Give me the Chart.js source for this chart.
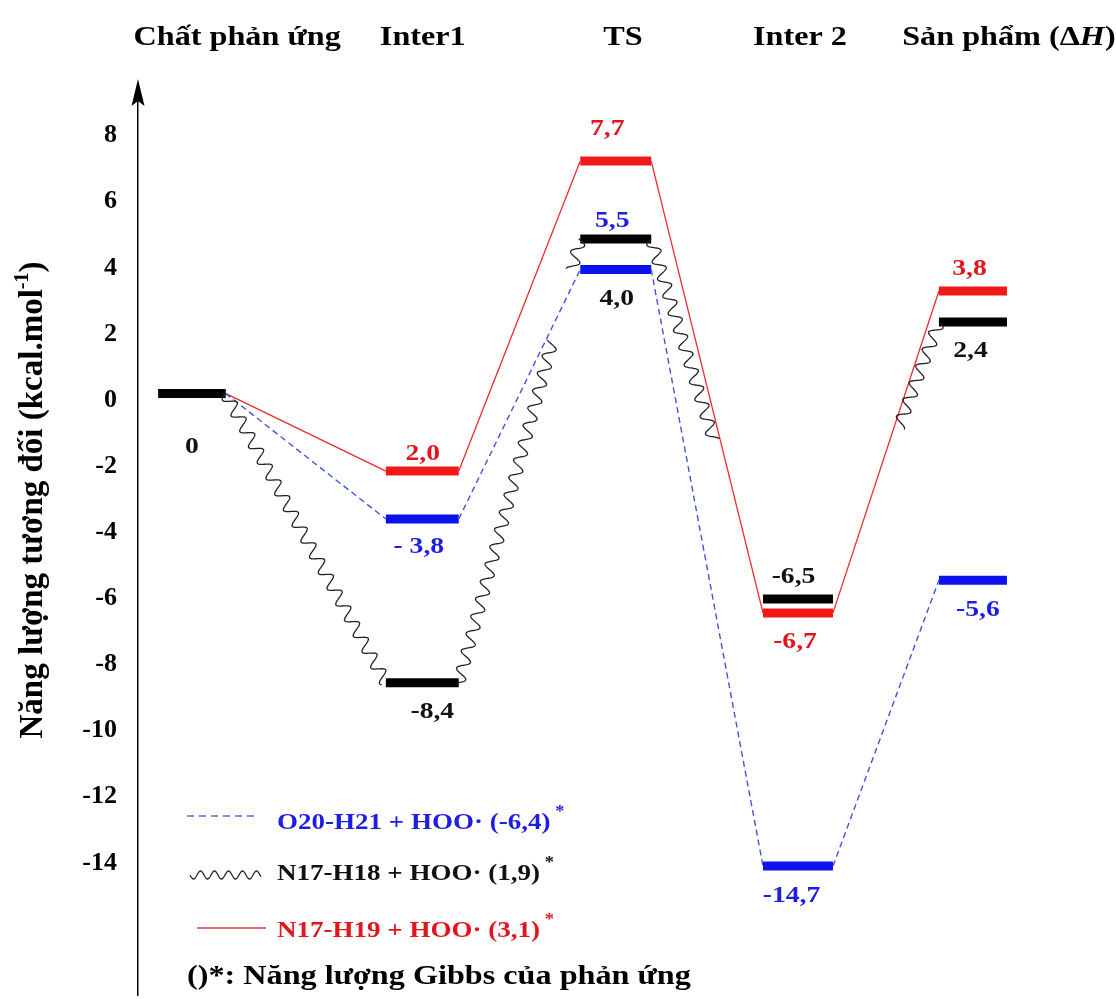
<!DOCTYPE html>
<html>
<head>
<meta charset="utf-8">
<script src="https://cdn.jsdelivr.net/npm/chart.js@4.4.1/dist/chart.umd.min.js"></script>
<style>
  html, body { margin: 0; padding: 0; background: #fff; }
  #wrap { width: 1116px; height: 999px; }
</style>
</head>
<body>
<div id="wrap"><canvas id="energyChart"></canvas></div>
<script>
const stages = ["Chất phản ứng", "Inter1", "TS", "Inter 2", "Sản phẩm (Δ"];
const yTicks = [8, 6, 4, 2, 0, -2, -4, -6, -8, -10, -12, -14];

// levels as they sit on the energy axis (kcal/mol)
const blueLevels = [0.2, -3.6, 3.95, -14.1, -5.45];
const blackLevels = [0.2, -8.55, 4.87, -6.02, 2.36];
const redLevels = [0.2, -2.15, 7.23, -6.44, 3.3];

// printed values next to the levels
const blueValueText = ["", "- 3,8", "5,5", "-14,7", "-5,6"];
const blackValueText = ["0", "-8,4", "4,0", "-6,5", "2,4"];
const redValueText = ["", "2,0", "7,7", "-6,7", "3,8"];

const legendText = ["O20-H21 + HOO· (-6,4)", "N17-H18 + HOO· (1,9)", "N17-H19 + HOO· (3,1)"];
const footnote = "()*: Năng lượng Gibbs của phản ứng";
const yTitle = "Năng lượng tương đối (kcal.mol";

// layout (x axis runs 0..10 across the plot)
const stageSpan = [[0.21, 0.9], [2.55, 3.3], [4.55, 5.28], [6.43, 7.15], [8.24, 8.94]];
const headerX = [1.02, 2.93, 4.99, 6.81, 8.96];
const blackLabelOffset = [[0, 60], [10, 35], [1, 66], [-4.5, -16], [-2.5, 35]];
const blueLabelOffset = [[0, 0], [-3.5, 34], [-3.5, -42.5], [-6.5, 35.5], [5, 36]];
const redLabelOffset = [[0, 0], [0.5, -11], [-8.5, -26], [-3, 35], [-3.5, -16]];
// parts of the wavy connectors that are actually drawn
const blackWaveParts = [[[0, 1]], [[0, 0.77], [0.93, 1]], [[0, 0.56]], [[0.62, 1]]];

const SERIF = "'Liberation Serif', 'Times New Roman', serif";
const STRETCH = 1.15;
const BLUE = "#0b12ee", RED = "#f01818", BLACK = "#000";

function levelPoints(levels) {
  const pts = [];
  levels.forEach((v, i) => {
    pts.push({ x: stageSpan[i][0], y: v }, { x: stageSpan[i][1], y: v });
  });
  return pts;
}
const isLevel = (c) => c.p0DataIndex % 2 === 0;

function drawRich(ctx, x, y, pieces, align, sx) {
  ctx.save();
  ctx.translate(x, y);
  ctx.scale(sx, 1);
  ctx.textBaseline = "alphabetic";
  ctx.textAlign = "left";
  let w = 0;
  pieces.forEach((p) => { ctx.font = p.font; w += ctx.measureText(p.t).width + (p.dx || 0); });
  let cx = align === "center" ? -w / 2 : align === "right" ? -w : 0;
  pieces.forEach((p) => {
    ctx.font = p.font;
    ctx.fillStyle = p.color;
    cx += p.dx || 0;
    ctx.fillText(p.t, cx, p.dy || 0);
    cx += ctx.measureText(p.t).width;
  });
  ctx.restore();
}

function waveLine(ctx, x0, y0, x1, y1, amp, len, t0, t1) {
  const dx = x1 - x0, dy = y1 - y0, L = Math.hypot(dx, dy);
  const ux = dx / L, uy = dy / L, nx = -uy, ny = ux;
  ctx.beginPath();
  let first = true;
  for (let s = t0 * L; s <= t1 * L; s += 0.5) {
    const o = amp * Math.sin((2 * Math.PI * s) / len);
    const px = x0 + ux * s + nx * o, py = y0 + uy * s + ny * o;
    if (first) { ctx.moveTo(px, py); first = false; } else ctx.lineTo(px, py);
  }
  ctx.stroke();
}

const diagramPlugin = {
  id: "diagram",
  beforeDraw(chart) {
    const ctx = chart.ctx;
    ctx.save();
    ctx.fillStyle = "#fff";
    ctx.fillRect(0, 0, chart.width, chart.height);
    ctx.restore();
  },
  afterDatasetsDraw(chart) {
    const ctx = chart.ctx;
    const xs = chart.scales.x, ys = chart.scales.y;

    // wavy connectors of the black path
    const pts = chart.getDatasetMeta(0).data;
    ctx.save();
    ctx.strokeStyle = "#222";
    ctx.lineWidth = 1.3;
    blackWaveParts.forEach((parts, j) => {
      const a = pts[2 * j + 1], b = pts[2 * j + 2];
      parts.forEach(([t0, t1]) => waveLine(ctx, a.x, a.y, b.x, b.y, 6, 18, t0, t1));
    });
    ctx.restore();

    // value labels
    const font = "bold 24px " + SERIF;
    const groups = [
      [blackLevels, blackValueText, blackLabelOffset, "#111"],
      [blueLevels, blueValueText, blueLabelOffset, "#1d1de6"],
      [redLevels, redValueText, redLabelOffset, "#e3141b"]
    ];
    groups.forEach(([levels, texts, offs, color]) => {
      texts.forEach((t, i) => {
        if (!t) return;
        const cx = (xs.getPixelForValue(stageSpan[i][0]) + xs.getPixelForValue(stageSpan[i][1])) / 2;
        drawRich(ctx, cx + offs[i][0], ys.getPixelForValue(levels[i]) + offs[i][1],
          [{ t, font, color }], "center", STRETCH);
      });
    });
  },
  afterDraw(chart) {
    const ctx = chart.ctx;
    const xs = chart.scales.x, ys = chart.scales.y;
    const hFont = "bold 28px " + SERIF;

    // stage headers
    stages.forEach((s, i) => {
      const pieces = [{ t: s, font: hFont, color: BLACK }];
      if (i === stages.length - 1) {
        pieces.push({ t: "H", font: "italic bold 28px " + SERIF, color: BLACK });
        pieces.push({ t: ")", font: hFont, color: BLACK });
      }
      drawRich(ctx, xs.getPixelForValue(headerX[i]), 45, pieces, "center", STRETCH);
    });

    // arrow on the energy axis
    const ax = ys.right;
    ctx.save();
    ctx.fillStyle = BLACK;
    ctx.beginPath();
    ctx.moveTo(ax, 79);
    ctx.lineTo(ax - 6.5, 106);
    ctx.lineTo(ax, 101);
    ctx.lineTo(ax + 6.5, 106);
    ctx.closePath();
    ctx.fill();
    ctx.fillRect(ax - 0.75, 100, 1.5, chart.chartArea.top - 100 + 1);
    ctx.restore();

    // axis title
    ctx.save();
    ctx.translate(42, 500);
    ctx.rotate(-Math.PI / 2);
    drawRich(ctx, 0, 0, [
      { t: yTitle, font: "bold 33px " + SERIF, color: BLACK },
      { t: "-1", font: "bold 20px " + SERIF, color: BLACK, dy: -14 },
      { t: ")", font: "bold 33px " + SERIF, color: BLACK }
    ], "center", 1);
    ctx.restore();

    // legend
    const lFont = "bold 23.5px " + SERIF;
    const sFont = "bold 16px " + SERIF;
    ctx.save();
    ctx.lineWidth = 1.6;
    ctx.strokeStyle = "#5c68d6";
    ctx.setLineDash([7, 5]);
    ctx.beginPath(); ctx.moveTo(187, 816); ctx.lineTo(258, 816); ctx.stroke();
    ctx.setLineDash([]);
    ctx.strokeStyle = "#222";
    ctx.lineWidth = 1.3;
    waveLine(ctx, 190, 875, 261, 875, 4, 14, 0, 1);
    ctx.strokeStyle = "#e26a6a";
    ctx.lineWidth = 2;
    ctx.beginPath(); ctx.moveTo(197, 928); ctx.lineTo(266, 928); ctx.stroke();
    ctx.restore();

    const legendColors = ["#1d1de6", "#111", "#e3141b"];
    const legendBase = [829, 880, 937];
    legendText.forEach((t, i) => {
      drawRich(ctx, 277, legendBase[i], [
        { t, font: lFont, color: legendColors[i] },
        { t: "*", font: sFont, color: legendColors[i], dy: -13, dx: 4 }
      ], "left", STRETCH);
    });

    drawRich(ctx, 187, 984, [{ t: footnote, font: "bold 28px " + SERIF, color: BLACK }], "left", STRETCH);
  }
};

new Chart(document.getElementById("energyChart"), {
  type: "line",
  data: {
    datasets: [
      {
        label: "N17-H18 + HOO·",
        data: levelPoints(blackLevels),
        borderColor: BLACK,
        borderWidth: 9,
        segment: {
          borderWidth: (c) => (isLevel(c) ? 9 : 1.3),
          borderColor: (c) => (isLevel(c) ? BLACK : "transparent")
        }
      },
      {
        label: "O20-H21 + HOO·",
        data: levelPoints(blueLevels),
        borderColor: BLUE,
        borderWidth: 9,
        segment: {
          borderWidth: (c) => (isLevel(c) ? 9 : 1.4),
          borderColor: (c) => (isLevel(c) ? BLUE : "#3f55e0"),
          borderDash: (c) => (isLevel(c) ? [] : [6, 4])
        }
      },
      {
        label: "N17-H19 + HOO·",
        data: levelPoints(redLevels),
        borderColor: RED,
        borderWidth: 9,
        segment: {
          borderWidth: (c) => (isLevel(c) ? 9 : 1.3),
          borderColor: (c) => (isLevel(c) ? RED : "#f02a2a")
        }
      }
    ]
  },
  options: {
    responsive: true,
    maintainAspectRatio: false,
    animation: false,
    elements: {
      point: { radius: 0 },
      line: { tension: 0, borderCapStyle: "butt" }
    },
    layout: { padding: { left: 78, right: 6, top: 86, bottom: 4 } },
    plugins: {
      legend: { display: false },
      tooltip: { enabled: false }
    },
    scales: {
      x: { type: "linear", min: 0, max: 10, display: false },
      y: {
        min: -18,
        max: 9.5,
        afterFit: (s) => {
          s.width = 60;
          s.paddingTop = 0;
          s.paddingBottom = 0;
        },
        afterBuildTicks: (s) => { s.ticks = yTicks.map((v) => ({ value: v })); },
        grid: { display: false, drawTicks: false },
        border: { display: true, color: "#000", width: 1.5 },
        ticks: {
          color: "#000",
          padding: 21,
          font: { family: SERIF, size: 26, weight: "bold" }
        }
      }
    }
  },
  plugins: [diagramPlugin]
});
</script>
</body>
</html>
